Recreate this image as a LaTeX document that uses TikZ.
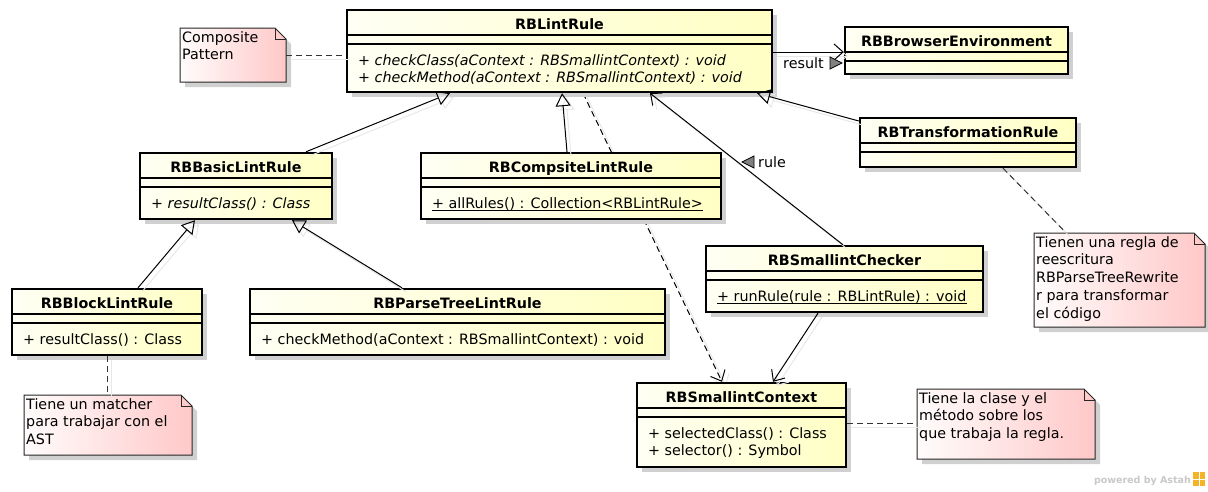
\documentclass[tikz,border=0pt]{standalone}
\usepackage{fontspec}
\setmainfont{DejaVu Sans}
\usetikzlibrary{arrows.meta,fit,shadows,calc,backgrounds}

\definecolor{clsL}{RGB}{255,255,244}
\definecolor{clsR}{RGB}{255,255,196}
\definecolor{noteL}{RGB}{255,252,252}
\definecolor{noteR}{RGB}{255,200,200}
\definecolor{shad}{RGB}{208,208,208}
\definecolor{astahgray}{RGB}{200,200,200}
\definecolor{astahorange}{RGB}{245,180,40}

\tikzset{
 clsbox/.style={draw=black, line width=2.4pt, inner sep=0pt, left color=clsL, right color=clsR,
   drop shadow={shadow xshift=5pt, shadow yshift=-5pt, fill=shad, opacity=1}},
 sepline/.style={line width=1.3pt},
 ttl/.style={font=\fontsize{14.3}{17}\selectfont\bfseries, anchor=base, inner sep=0pt},
 op/.style={font=\fontsize{14.3}{17}\selectfont, anchor=base west, inner sep=0pt},
 notetext/.style={font=\fontsize{14.3}{17.8}\selectfont, anchor=north west, inner sep=0pt, align=left},
 ghost/.style={preaction={draw=black!9, line width=1pt, transform canvas={shift={(4pt,-4pt)}}}},
 link/.style={line width=1pt, ghost},
 gen/.style={link, -{Triangle[open, length=13pt, width=15pt, line width=1pt]}},
 assoc/.style={link, -{Straight Barb[length=9pt, width=16pt, line width=1pt]}},
 dep/.style={link, dash pattern=on 6pt off 4pt, -{Straight Barb[length=9pt, width=16pt, line width=1pt]}},
 notelink/.style={line width=1pt, dash pattern=on 6pt off 4pt, draw=black!80, ghost},
 lbltri/.style={fill=black!50, draw=black, line width=0.8pt},
}

\newcommand{\umlclass}[6]{%
  \coordinate (#1-nw) at (#2,#3);
  \coordinate (#1-se) at (#4,#5);
  \node[clsbox, fit=(#1-nw)(#1-se)] (#1) {};
  \draw[sepline] (#2,#3+25) -- (#4,#3+25);
  \draw[sepline] (#2,#3+34) -- (#4,#3+34);
  \node[ttl] (#1-title) at ({(#2+#4)/2},#3+19) {#6};
}
\newcommand{\umlnote}[6]{%
  \coordinate (#1-nw) at (#2,#3);
  \coordinate (#1-se) at (#4,#5);
  \node[fit=(#1-nw)(#1-se), inner sep=0pt] (#1) {};
  \fill[shad] (#2+5,#3+5) -- (#4-6,#3+5) -- (#4+5,#3+16) -- (#4+5,#5+5) -- (#2+5,#5+5) -- cycle;
  \draw[line width=1pt, draw=black!85, left color=noteL, right color=noteR]
     (#2,#3) -- (#4-11,#3) -- (#4,#3+11) -- (#4,#5) -- (#2,#5) -- cycle;
  \draw[line width=1pt, draw=black!85] (#4-11,#3) -- (#4-11,#3+11) -- (#4,#3+11);
  \node[notetext] (#1-text) at (#2+2,#3+3) {#6};
}
\newcommand{\ulinenode}[1]{\draw[line width=1.2pt] ($(#1.base west)+(0,2.5)$) -- ($(#1.base east)+(0,2.5)$);}

\begin{document}
\begin{tikzpicture}[x=1pt,y=-1pt]
\useasboundingbox (0,0) rectangle (1208,491);

% ---------- classes ----------
\umlclass{lint}{347}{10}{772}{92}{RBLintRule}
\node[op] (lint-op1) at (358,65) {+ \textit{checkClass(aContext : RBSmallintContext) : void}};
\node[op] (lint-op2) at (358,82) {+ \textit{checkMethod(aContext : RBSmallintContext) : void}};

\umlclass{browser}{845}{27}{1068}{74}{RBBrowserEnvironment}
\umlclass{transf}{860}{118}{1076}{167}{RBTransformationRule}

\umlclass{basic}{140}{153}{332}{219}{RBBasicLintRule}
\node[op] (basic-op1) at (151,208) {+ \textit{resultClass() : Class}};

\umlclass{composite}{421}{153}{721}{219}{RBCompsiteLintRule}
\node[op] (composite-op1) at (432,208) {+ allRules() : Collection<RBLintRule>};
\ulinenode{composite-op1}

\umlclass{block}{12}{289}{202}{355}{RBBlockLintRule}
\node[op] (block-op1) at (23,344) {+ resultClass() : Class};

\umlclass{parse}{250}{289}{665}{355}{RBParseTreeLintRule}
\node[op] (parse-op1) at (261,344) {+ checkMethod(aContext : RBSmallintContext) : void};

\umlclass{checker}{706}{246}{983}{312}{RBSmallintChecker}
\node[op] (checker-op1) at (717,301) {+ runRule(rule : RBLintRule) : void};
\ulinenode{checker-op1}

\umlclass{context}{637}{383}{846}{467}{RBSmallintContext}
\node[op] (context-op1) at (648,438) {+ selectedClass() : Class};
\node[op] (context-op2) at (648,455) {+ selector() : Symbol};

% ---------- notes ----------
\umlnote{cpnote}{180}{28}{286}{82}{Composite\\Pattern}
\umlnote{tnote}{1034}{233}{1205}{327}{Tienen una regla de\\reescritura\\RBParseTreeRewrite\\r para transformar\\el código}
\umlnote{cnote}{917}{389}{1095}{459}{Tiene la clase y el\\método sobre los\\que trabaja la regla.}
\umlnote{mnote}{24}{395}{192}{455}{Tiene un matcher\\para trabajar con el\\AST}

% ---------- connectors ----------
\begin{scope}[on background layer]
\draw[dep] (583,0 |- lint.south) -- (722,0 |- context.north);
\end{scope}

\draw[notelink] (cpnote.east |- 0,55) -- (lint.west |- 0,55);
\draw[assoc] (lint.east |- 0,52) -- (browser.west |- 0,52);
\node[op] (reslbl) at (783,68) {result};
\path[lbltri] (830,57) -- (842,63) -- (830,69) -- cycle;

\draw[gen] (306,0 |- basic.north) -- (450,0 |- lint.south);
\draw[gen] (567,0 |- composite.north) -- (562,0 |- lint.south);
\draw[gen] (transf.west |- 0,121) -- (757,0 |- lint.south);
\draw[assoc] (843,0 |- checker.north) -- (650,0 |- lint.south);
\node[op] (rulelbl) at (758,167) {rule};
\path[lbltri] (754,156) -- (742,162) -- (754,168) -- cycle;

\draw[gen] (138,0 |- block.north) -- (195,0 |- basic.south);
\draw[gen] (402,0 |- parse.north) -- (292,0 |- basic.south);
\draw[assoc] (818,0 |- checker.south) -- (773,0 |- context.north);

\draw[notelink] (context.east |- 0,423) -- (cnote.west |- 0,423);
\draw[notelink] (1003,0 |- transf.south) -- (1066,0 |- tnote.north);
\draw[notelink] (107,0 |- block.south) -- (107,0 |- mnote.north);

% ---------- watermark ----------
\node[font=\fontsize{9.5}{12}\selectfont\bfseries, text=astahgray, anchor=base east, inner sep=0pt] (astah) at (1191,483) {powered by Astah};
\fill[astahorange] (1193,472) rectangle (1205,486);
\fill[white] (1193,478.5) rectangle (1205,479.5);
\fill[white] (1198.5,472) rectangle (1199.5,486);
\end{tikzpicture}
\end{document}
